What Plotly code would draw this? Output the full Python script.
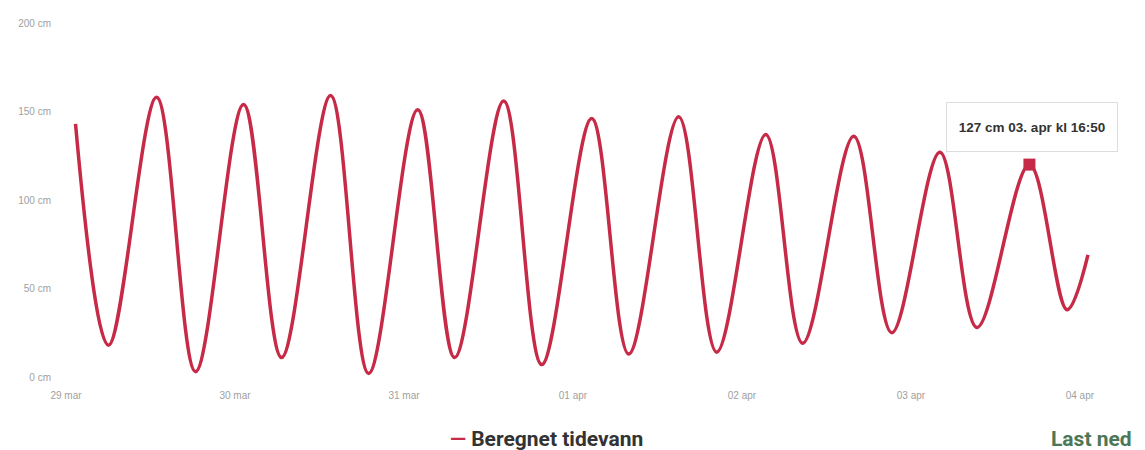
import plotly.graph_objects as go

# Tide extremes (plus start/end points)
times = [
    "2024-03-29 01:21", "2024-03-29 06:02", "2024-03-29 12:52", "2024-03-29 18:24",
    "2024-03-30 01:13", "2024-03-30 06:37", "2024-03-30 13:35", "2024-03-30 18:59",
    "2024-03-31 01:57", "2024-03-31 07:12", "2024-03-31 14:10", "2024-03-31 19:34",
    "2024-04-01 02:40", "2024-04-01 07:55", "2024-04-01 15:01", "2024-04-01 20:25",
    "2024-04-02 03:23", "2024-04-02 08:38", "2024-04-02 15:53", "2024-04-02 21:17",
    "2024-04-03 04:07", "2024-04-03 09:23", "2024-04-03 16:50", "2024-04-03 22:11",
    "2024-04-04 01:09",
]
levels_cm = [
    143, 18, 158, 3,
    154, 11, 159, 2,
    151, 11, 156, 7,
    146, 13, 147, 14,
    137, 19, 136, 25,
    127, 28, 120, 38,
    69,
]

tick_vals = ["2024-03-29", "2024-03-30", "2024-03-31", "2024-04-01",
             "2024-04-02", "2024-04-03", "2024-04-04"]
tick_text = ["29 mar", "30 mar", "31 mar", "01 apr", "02 apr", "03 apr", "04 apr"]
y_tick_vals = [0, 50, 100, 150, 200]
y_tick_text = ["0 cm", "50 cm", "100 cm", "150 cm", "200 cm"]

highlight_time = ["2024-04-03 16:50"]
highlight_level = [120]
highlight_label = "127 cm 03. apr kl 16:50"

series_name = "Beregnet tidevann"
RED = "#c62a47"

fig = go.Figure()
fig.add_trace(go.Scatter(
    x=times, y=levels_cm, mode="lines", name=series_name,
    line=dict(color=RED, width=3.5, shape="spline", smoothing=1.0),
    showlegend=False, hoverinfo="skip",
))
fig.add_trace(go.Scatter(
    x=highlight_time, y=highlight_level, mode="markers",
    marker=dict(symbol="square", size=12, color=RED),
    showlegend=False, hoverinfo="skip",
))

fig.add_annotation(
    x=highlight_time[0], y=highlight_level[0], xref="x", yref="y",
    text="<b>" + highlight_label + "</b>", showarrow=False,
    yshift=38, xshift=3,
    font=dict(family="Liberation Sans", size=13.5, color="#333333"),
    bgcolor="white", bordercolor="#dddddd", borderwidth=1,
    width=168, height=46,
)
fig.add_annotation(
    x=0.369, y=-0.175, xref="paper", yref="paper",
    text="<span style='color:%s'><b>—</b></span> <b>%s</b>" % (RED, series_name),
    showarrow=False, xanchor="left", yanchor="middle",
    font=dict(family="Roboto", size=21, color="#333333"),
)
fig.add_annotation(
    text="<b>Last ned</b>", showarrow=False,
    xref="paper", yref="paper", x=1.032, y=-0.175, xanchor="right", yanchor="middle",
    font=dict(family="Roboto", size=21, color="#4b7757"),
)

fig.update_layout(
    width=1137, height=442,
    margin=dict(l=58, r=44, t=9, b=73),
    paper_bgcolor="white", plot_bgcolor="white",
    xaxis=dict(
        type="date",
        range=["2024-03-29 00:00", "2024-04-04 03:00"],
        tickvals=tick_vals, ticktext=tick_text,
        showgrid=False, zeroline=False, showline=False, ticks="",
        tickfont=dict(family="Liberation Sans", size=10, color="#a0a0a0"),
        ticklabelstandoff=11,
    ),
    yaxis=dict(
        range=[0, 200],
        tickvals=y_tick_vals, ticktext=y_tick_text,
        showgrid=False, zeroline=False, showline=False, ticks="",
        tickfont=dict(family="Liberation Sans", size=10, color="#a0a0a0"),
        ticklabelstandoff=14,
    ),
)

fig.write_html("out.html")
